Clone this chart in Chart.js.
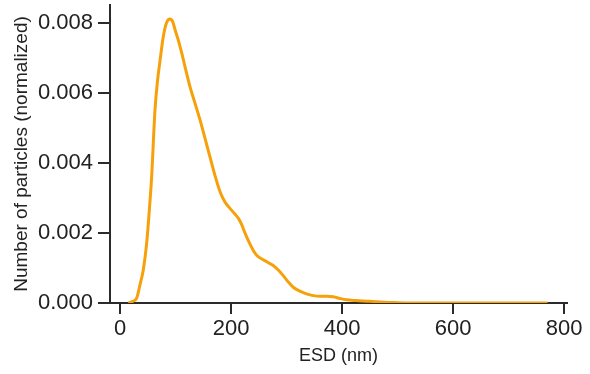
<!DOCTYPE html>
<html>
<head>
<meta charset="utf-8">
<script src="https://cdn.jsdelivr.net/npm/chart.js@4.4.1/dist/chart.umd.min.js"></script>
<style>
html,body{margin:0;padding:0;background:#fff;}
#wrap{width:590px;height:374px;}
</style>
</head>
<body>
<div id="wrap"><canvas id="c" width="590" height="374"></canvas></div>
<script>
const esd = [15, 22, 30, 36, 42, 48, 54, 57, 63, 68, 72, 78, 84, 90, 95, 99, 105, 111, 118, 126, 135, 144, 153, 162, 171, 180, 189, 198, 207, 213, 219, 225, 232, 240, 247, 255, 265, 276, 285, 294, 303, 312, 324, 336, 348, 360, 372, 384, 396, 408, 425, 450, 475, 500, 550, 600, 650, 700, 770];
const counts = [0, 0.00004, 0.00014, 0.00052, 0.00095, 0.0017, 0.0029, 0.0036, 0.0055, 0.0064, 0.0069, 0.0076, 0.0080, 0.0081, 0.00802, 0.0078, 0.0075, 0.00714, 0.00668, 0.00617, 0.0057, 0.00523, 0.0047, 0.00417, 0.00364, 0.00318, 0.00288, 0.0027, 0.00254, 0.00242, 0.00224, 0.002, 0.00175, 0.0015, 0.00135, 0.00126, 0.00117, 0.00107, 0.00094, 0.00078, 0.0006, 0.00045, 0.00034, 0.00026, 0.00021, 0.00019, 0.00019, 0.00018, 0.00013, 0.00009, 0.00007, 0.00005, 0.00002, 0.00001, 0, 0, 0, 0, 0];
const xTicks = [0, 200, 400, 600, 800];
const yTicks = [0, 0.002, 0.004, 0.006, 0.008];
const xTitle = 'ESD (nm)';
const yTitle = 'Number of particles (normalized)';

const axisColor = '#2b2b2b';
const textColor = '#222222';
const fontFamily = '"Liberation Sans", Arial, sans-serif';

new Chart(document.getElementById('c'), {
  type: 'line',
  data: {
    datasets: [{
      data: esd.map((x, i) => ({x: x, y: counts[i]})),
      borderColor: '#F6A00A',
      borderWidth: 3,
      pointRadius: 0,
      fill: false,
      cubicInterpolationMode: 'monotone'
    }]
  },
  options: {
    responsive: false,
    animation: false,
    layout: {padding: {top: 5, right: 23, left: 0, bottom: 7}},
    plugins: {legend: {display: false}, tooltip: {enabled: false}},
    scales: {
      x: {
        type: 'linear',
        min: -18,
        max: 805,
        afterBuildTicks: s => { s.ticks = xTicks.map(v => ({value: v})); },
        afterFit: s => { s.height = 64; s.paddingLeft = 0; s.paddingRight = 0; },
        border: {display: true, color: axisColor, width: 2},
        grid: {display: true, drawOnChartArea: false, drawTicks: true, tickLength: 11, color: axisColor, lineWidth: 2},
        ticks: {color: textColor, font: {family: fontFamily, size: 22}, padding: 2, maxRotation: 0},
        title: {display: true, text: xTitle, color: textColor, font: {family: fontFamily, size: 18}, padding: {top: 0, bottom: 0}}
      },
      y: {
        type: 'linear',
        min: 0,
        max: 0.0085,
        afterBuildTicks: s => { s.ticks = yTicks.map(v => ({value: v})); },
        afterFit: s => { s.width = 110; s.paddingTop = 0; s.paddingBottom = 0; },
        border: {display: true, color: axisColor, width: 2},
        grid: {display: true, drawOnChartArea: false, drawTicks: true, tickLength: 12, color: axisColor, lineWidth: 2},
        ticks: {color: textColor, font: {family: fontFamily, size: 22}, padding: 5, callback: v => Number(v).toFixed(3)},
        title: {display: true, text: yTitle, color: textColor, font: {family: fontFamily, size: 19}, padding: {top: 10, bottom: 0}}
      }
    }
  }
});
</script>
</body>
</html>
